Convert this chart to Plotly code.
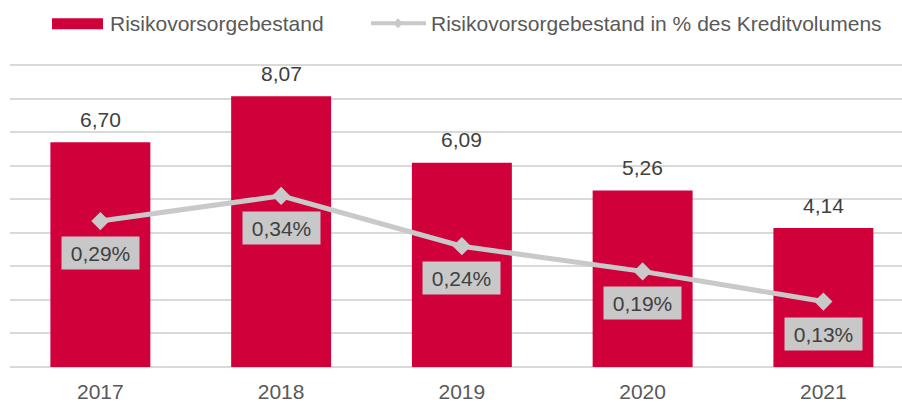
import plotly.graph_objects as go

years = ["2017", "2018", "2019", "2020", "2021"]
bestand = [6.70, 8.07, 6.09, 5.26, 4.14]
quote = [0.29, 0.34, 0.24, 0.19, 0.13]
bestand_labels = ["6,70", "8,07", "6,09", "5,26", "4,14"]
quote_labels = ["0,29%", "0,34%", "0,24%", "0,19%", "0,13%"]

RED = "#D0003A"
GRAY = "#C9C9C9"
TXT = "#595959"
DTXT = "#404040"
FONT = "Liberation Sans, Arial, sans-serif"

W, H = 902, 403
ML, MR, MT, MB = 10, 0, 60, 34
PW = W - ML - MR
PH = H - MT - MB

def px(x):
    return (x - ML) / PW

def py(y):
    return (H - MB - y) / PH

fig = go.Figure()
fig.add_trace(go.Bar(x=years, y=bestand, marker=dict(color=RED, line=dict(width=0)),
                     width=0.553, name="Risikovorsorgebestand", showlegend=False))
fig.add_trace(go.Scatter(x=years, y=quote, yaxis="y2", mode="lines+markers",
                         line=dict(color=GRAY, width=5),
                         marker=dict(symbol="diamond", size=14, color=GRAY),
                         name="Risikovorsorgebestand in % des Kreditvolumens", showlegend=False))

for i, (v, t) in enumerate(zip(bestand, bestand_labels)):
    fig.add_annotation(x=i, y=v, text=t, showarrow=False, yanchor="middle", yshift=23,
                       font=dict(family=FONT, size=21, color=DTXT))
for i, (v, t) in enumerate(zip(quote, quote_labels)):
    fig.add_annotation(x=i, y=v, yref="y2", text=t, showarrow=False, yanchor="middle", yshift=-32,
                       bgcolor="#C8C8C8", width=75, height=30, borderpad=1,
                       font=dict(family=FONT, size=21, color=DTXT))

# manual legend
fig.add_shape(type="rect", xref="paper", yref="paper", x0=px(52), x1=px(103), y0=py(29), y1=py(18),
              fillcolor=RED, line=dict(width=0))
fig.add_annotation(xref="paper", yref="paper", x=px(108), y=py(23), xanchor="left", yanchor="middle",
                   text="Risikovorsorgebestand", showarrow=False,
                   font=dict(family=FONT, size=21, color=TXT))
fig.add_shape(type="line", xref="paper", yref="paper", x0=px(371), x1=px(426), y0=py(23), y1=py(23),
              line=dict(color=GRAY, width=4))
cx, cy, r = 398, 23, 5
fig.add_shape(type="path", xref="paper", yref="paper",
              path=f"M {px(cx-r)} {py(cy)} L {px(cx)} {py(cy-r)} L {px(cx+r)} {py(cy)} L {px(cx)} {py(cy+r)} Z",
              fillcolor=GRAY, line=dict(width=0))
fig.add_annotation(xref="paper", yref="paper", x=px(429), y=py(23), xanchor="left", yanchor="middle",
                   text="Risikovorsorgebestand in % des Kreditvolumens", showarrow=False,
                   font=dict(family=FONT, size=21, color=TXT))

fig.update_layout(
    width=W, height=H,
    margin=dict(l=ML, r=MR, t=MT, b=MB),
    paper_bgcolor="white", plot_bgcolor="white",
    showlegend=False,
    font=dict(family=FONT, size=21, color=TXT),
    xaxis=dict(type="category", range=[-0.5, 4.435], showgrid=False, showline=False,
               ticks="outside", ticklen=6, tickcolor="rgba(0,0,0,0)",
               tickfont=dict(family=FONT, size=21, color=TXT)),
    yaxis=dict(range=[0, 9.15], tickvals=list(range(10)), showgrid=True, gridcolor="#D9D9D9", gridwidth=2,
               zeroline=True, zerolinecolor="#D9D9D9", zerolinewidth=2,
               showticklabels=False, ticks=""),
    yaxis2=dict(range=[0, 0.61], overlaying="y", side="right", showgrid=False,
                zeroline=False, showticklabels=False, ticks=""),
)

fig.write_html("out.html")
